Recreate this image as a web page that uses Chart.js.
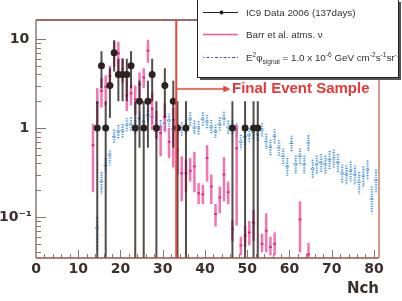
<!DOCTYPE html>
<html>
<head>
<meta charset="utf-8">
<script src="https://cdn.jsdelivr.net/npm/chart.js@4"></script>
<style>
html, body { margin: 0; padding: 0; background: #fff; }
#wrap { width: 402px; height: 301px; }
</style>
</head>
<body>
<div id="wrap"><canvas id="graph" width="402" height="301"></canvas></div>
<script>
// IC9 data 2006 (137 days): counts per Nch bin, with error bar ends
const dataNch = [14.5, 15.5, 16.5, 17.5, 18.5, 19.5, 20.5, 21.5, 22.5, 23.5, 24.5, 25.5, 26.5, 27.5, 28.5, 30.5, 32.5, 33.5, 35.5, 46.5, 49.5, 51.5, 52.5];
const dataCounts = [1, 5, 1, 3, 7, 4, 4, 4, 5, 1, 2, 1, 2, 4, 1, 3, 2, 1, 1, 1, 1, 1, 1];
const dataLo = [0, 2.8, 0, 1.3, 4.3, 2, 2, 2, 2.8, 0, 0.6, 0, 0.6, 2, 0, 1.3, 0.6, 0, 0, 0, 0, 0, 0];
const dataHi = [2, 7.3, 2, 4.7, 9.7, 6, 6, 6, 7.3, 2, 3.4, 2, 3.4, 6, 2, 4.7, 3.4, 2, 2, 2, 2, 2, 2];

// Barr et al. atmospheric neutrinos
const barrNch = [13.5, 14.5, 15.5, 16.5, 17.5, 18.5, 19.5, 20.5, 21.5, 22.5, 23.5, 24.5, 25.5, 26.5, 27.5, 28.5, 29.5, 30.5, 31.5, 32.5, 33.5, 34.5, 35.5, 36.5, 37.5, 38.5, 39.5, 40.5, 41.5, 42.5, 43.5, 44.5, 45.5, 46.5, 47.5, 48.5, 49.5, 50.5, 51.5, 53.5, 54.5, 55.5, 56.5, 62.5, 64.5];
const barrVal = [0.64, 1.92, 2.62, 2.9, 3.85, 6.6, 6.9, 4.6, 2.3, 2.45, 2.1, 3.1, 3.7, 7.4, 1.65, 1.04, 0.88, 1.35, 0.7, 1.24, 0.57, 0.31, 0.31, 0.33, 0.37, 0.185, 0.18, 0.46, 0.22, 0.108, 0.166, 0.3, 0.19, 0.073, 0.59, 0.048, 0.062, 0.067, 0.086, 0.05, 0.07, 0.046, 0.05, 0.094, 0.038];
const barrLo = [0.19, 1.1, 1.7, 1.8, 3.1, 4.9, 4.3, 3.2, 1.55, 1.8, 1.4, 2.2, 2.8, 5.4, 0.95, 0.75, 0.48, 0.9, 0.46, 0.36, 0.3, 0.15, 0.19, 0.25, 0.19, 0.14, 0.14, 0.25, 0.14, 0.078, 0.11, 0.15, 0.14, 0.053, 0.08, 0.037, 0.046, 0.048, 0.054, 0.04, 0.04, 0.037, 0.037, 0.04, 0.03];
const barrHi = [1.11, 2.8, 3.65, 3.9, 5.0, 9.4, 9.3, 6.1, 3.6, 3.1, 3.0, 4.2, 4.7, 9.8, 2.5, 1.55, 1.05, 1.9, 1.0, 1.68, 1.0, 0.48, 0.44, 0.46, 0.54, 0.24, 0.23, 0.64, 0.3, 0.14, 0.22, 0.47, 0.25, 0.093, 1.08, 0.06, 0.08, 0.09, 0.12, 0.065, 0.11, 0.06, 0.067, 0.15, 0.051];

// E^2 phi signal = 1.0e-6 GeV cm-2 s-1 sr-1
const sigNch = [14.5, 15.5, 16.5, 17.5, 18.5, 19.5, 20.5, 21.5, 22.5, 23.5, 24.5, 25.5, 26.5, 27.5, 28.5, 29.5, 30.5, 31.5, 32.5, 33.5, 34.5, 35.5, 36.5, 37.5, 38.5, 39.5, 40.5, 41.5, 42.5, 43.5, 44.5, 45.5, 46.5, 47.5, 48.5, 49.5, 50.5, 51.5, 52.5, 53.5, 54.5, 55.5, 56.5, 57.5, 58.5, 59.5, 60.5, 61.5, 62.5, 63.5, 64.5, 65.5, 66.5, 67.5, 68.5, 69.5, 70.5, 71.5, 72.5, 73.5, 74.5, 75.5, 76.5, 77.5, 78.5, 79.5, 80.5];
const sigVal = [0.075, 0.25, 0.38, 0.5, 0.8, 0.91, 0.93, 1.08, 1.1, 1.02, 1.28, 1.18, 1.4, 1.34, 0.92, 1.03, 1.13, 1.22, 0.98, 0.93, 0.97, 1.02, 1.26, 1.02, 1.0, 1.26, 1.18, 1.03, 0.91, 1.1, 1.28, 1.02, 1.02, 0.95, 0.7, 0.8, 0.83, 0.89, 0.85, 0.95, 0.71, 0.61, 0.81, 0.6, 0.48, 0.37, 0.67, 0.39, 0.48, 0.39, 0.68, 0.35, 0.39, 0.41, 0.39, 0.44, 0.46, 0.41, 0.31, 0.3, 0.33, 0.3, 0.245, 0.29, 0.34, 0.16, 0.26];
const sigLo = [0.043, 0.18, 0.32, 0.38, 0.66, 0.76, 0.78, 0.9, 0.92, 0.85, 1.07, 0.98, 1.17, 1.12, 0.77, 0.86, 0.94, 1.02, 0.82, 0.77, 0.8, 0.85, 1.05, 0.85, 0.83, 1.05, 0.98, 0.86, 0.75, 0.92, 1.07, 0.85, 0.85, 0.79, 0.57, 0.65, 0.68, 0.73, 0.7, 0.78, 0.58, 0.49, 0.66, 0.48, 0.38, 0.29, 0.54, 0.31, 0.38, 0.31, 0.54, 0.27, 0.3, 0.32, 0.3, 0.34, 0.36, 0.32, 0.24, 0.23, 0.25, 0.23, 0.18, 0.22, 0.26, 0.11, 0.19];
const sigHi = [0.1, 0.32, 0.46, 0.56, 0.96, 1.08, 1.1, 1.29, 1.31, 1.22, 1.52, 1.4, 1.66, 1.59, 1.1, 1.23, 1.34, 1.45, 1.17, 1.11, 1.16, 1.21, 1.5, 1.21, 1.19, 1.5, 1.4, 1.23, 1.09, 1.31, 1.52, 1.21, 1.21, 1.13, 0.84, 0.96, 0.99, 1.06, 1.01, 1.13, 0.86, 0.74, 0.97, 0.73, 0.59, 0.46, 0.82, 0.49, 0.59, 0.49, 0.83, 0.44, 0.49, 0.51, 0.49, 0.55, 0.57, 0.51, 0.39, 0.38, 0.42, 0.38, 0.32, 0.37, 0.43, 0.22, 0.34];

// axes
const xTickLabels = [0, 10, 20, 30, 40, 50, 60, 70, 80];
const yTickValues = [0.1, 1, 10];
// thin spaces keep "10" and "1" a little left of the wider 10^-1 label, like ROOT does
const yTickText = { 0.1: '10\u207B\u00B9', 1: '1\u2009', 10: '10\u2009' };

// final event sample cut
const nchCut = 33.2;
const arrowLevel = 2.75;
const arrowTipNch = 46.0;
const cutLabelNch = 46.4;

const FONT_AX = '"DejaVu Sans", sans-serif';
const FONT_TX = '"Liberation Sans", Arial, sans-serif';

function pts(xs, ys) { return xs.map((x, i) => ({ x: x, y: ys[i] })); }

const errorBars = {
    id: 'errorBars',
    beforeDatasetDraw(chart, args) {
        const ds = chart.data.datasets[args.index];
        if (!ds.errLo) return;
        const { ctx, chartArea: a, scales: { x, y } } = chart;
        const halfBin = (x.getPixelForValue(1) - x.getPixelForValue(0)) / 2;
        ctx.save();
        ctx.beginPath();
        ctx.rect(a.left, a.top, a.right - a.left, a.bottom - a.top);
        ctx.clip();
        ds.data.forEach((p, i) => {
            const px = x.getPixelForValue(p.x);
            const py = y.getPixelForValue(p.y);
            const yHi = y.getPixelForValue(ds.errHi[i]);
            const yLo = ds.errLo[i] > 0 ? y.getPixelForValue(ds.errLo[i]) : a.bottom + 4;
            if (ds.kind === 'data') {
                ctx.strokeStyle = 'rgba(40,32,28,0.8)';
                ctx.lineWidth = 2;
                ctx.beginPath(); ctx.moveTo(px, yHi); ctx.lineTo(px, yLo); ctx.stroke();
            } else if (ds.kind === 'mc') {
                ctx.strokeStyle = 'rgba(238,70,150,0.75)';
                ctx.lineWidth = 2.5;
                ctx.beginPath(); ctx.moveTo(px, yHi); ctx.lineTo(px, yLo); ctx.stroke();
                ctx.strokeStyle = '#e0207c';
                ctx.lineWidth = 1.8;
                ctx.beginPath(); ctx.moveTo(px - halfBin * 0.65, py); ctx.lineTo(px + halfBin * 0.65, py); ctx.stroke();
            } else {
                ctx.setLineDash([1.2, 1.2]);
                ctx.strokeStyle = 'rgba(120,180,230,0.55)';
                ctx.lineWidth = 3;
                ctx.beginPath(); ctx.moveTo(px, yHi); ctx.lineTo(px, yLo); ctx.stroke();
                ctx.strokeStyle = 'rgba(40,120,200,0.85)';
                ctx.lineWidth = 1.2;
                ctx.beginPath(); ctx.moveTo(px, yHi); ctx.lineTo(px, yLo); ctx.stroke();
                ctx.beginPath(); ctx.moveTo(px - halfBin, py); ctx.lineTo(px + halfBin, py); ctx.stroke();
                ctx.setLineDash([]);
            }
        });
        ctx.restore();
    }
};

function drawRich(ctx, x, y, parts) {
    parts.forEach(part => {
        const size = part[1] === 0 ? 9.8 : 6.6;
        const dy = part[1] === 1 ? -4 : (part[1] === -1 ? 2.5 : 0);
        ctx.font = size + 'px ' + FONT_TX;
        ctx.fillText(part[0], x, y + dy);
        x += ctx.measureText(part[0]).width;
    });
}

const decorations = {
    id: 'decorations',
    afterDraw(chart) {
        const { ctx, chartArea: a, scales: { x, y } } = chart;
        ctx.save();

        // ticks inside the frame
        ctx.strokeStyle = '#8a7470';
        ctx.lineWidth = 1;
        for (let v = 2; v <= 80; v += 2) {
            const px = Math.round(x.getPixelForValue(v)) + 0.5;
            const len = v % 10 === 0 ? 8 : 4;
            ctx.beginPath(); ctx.moveTo(px, a.bottom); ctx.lineTo(px, a.bottom - len); ctx.stroke();
        }
        [0.01, 0.1, 1, 10].forEach(dec => {
            for (let m = 1; m <= 9; m++) {
                const v = dec * m;
                if (v < y.min || v > y.max) continue;
                const py = Math.round(y.getPixelForValue(v)) + 0.5;
                const len = m === 1 ? 10 : 5;
                ctx.beginPath(); ctx.moveTo(a.left, py); ctx.lineTo(a.left + len, py); ctx.stroke();
            }
        });

        // frame
        ctx.lineWidth = 1.5;
        const side = (c, x1, y1, x2, y2) => { ctx.strokeStyle = c; ctx.beginPath(); ctx.moveTo(x1, y1); ctx.lineTo(x2, y2); ctx.stroke(); };
        side('#7a3a34', a.left, a.top, a.right, a.top);
        side('#8c7a78', a.left, a.top, a.left, a.bottom);
        side('#9a5048', a.left, a.bottom, a.right, a.bottom);
        side('#d07868', a.right, a.top, a.right, a.bottom);

        // final event sample cut
        const cx = x.getPixelForValue(nchCut);
        const ay = y.getPixelForValue(arrowLevel);
        const tip = x.getPixelForValue(arrowTipNch);
        ctx.strokeStyle = '#e5483a';
        ctx.lineWidth = 2;
        ctx.beginPath(); ctx.moveTo(cx, a.top); ctx.lineTo(cx, a.bottom); ctx.stroke();
        ctx.lineWidth = 1.5;
        ctx.beginPath(); ctx.moveTo(cx, ay); ctx.lineTo(tip - 4, ay); ctx.stroke();
        ctx.fillStyle = '#e5483a';
        ctx.beginPath(); ctx.moveTo(tip, ay); ctx.lineTo(tip - 7, ay - 3.5); ctx.lineTo(tip - 7, ay + 3.5); ctx.closePath(); ctx.fill();
        ctx.fillStyle = '#e63838';
        ctx.font = 'bold 15px ' + FONT_TX;
        ctx.textBaseline = 'middle';
        ctx.fillText('Final Event Sample', x.getPixelForValue(cutLabelNch), ay);

        // legend box
        const lx = 197, ly = -1, lw = 201, lh = 78;
        ctx.fillStyle = '#555';
        ctx.fillRect(lx + 3, ly + 3, lw, lh);
        ctx.fillStyle = '#fff';
        ctx.fillRect(lx, ly, lw, lh);
        ctx.strokeStyle = '#222';
        ctx.lineWidth = 1;
        ctx.strokeRect(lx + 0.5, ly + 0.5, lw, lh);

        ctx.lineWidth = 1;
        ctx.strokeStyle = '#222';
        ctx.beginPath(); ctx.moveTo(203, 12.5); ctx.lineTo(238, 12.5); ctx.stroke();
        ctx.fillStyle = '#222';
        ctx.beginPath(); ctx.arc(221.5, 12.5, 2, 0, Math.PI * 2); ctx.fill();

        ctx.strokeStyle = '#ee5aa0';
        ctx.lineWidth = 1.5;
        ctx.beginPath(); ctx.moveTo(203, 34.5); ctx.lineTo(238, 34.5); ctx.stroke();

        ctx.strokeStyle = '#3a4ac0';
        ctx.lineWidth = 1.2;
        ctx.setLineDash([1.5, 2, 3, 2]);
        ctx.beginPath(); ctx.moveTo(203, 57.5); ctx.lineTo(238, 57.5); ctx.stroke();
        ctx.setLineDash([]);

        ctx.fillStyle = '#333';
        ctx.textBaseline = 'alphabetic';
        ctx.font = '9.8px ' + FONT_TX;
        ctx.fillText('IC9 Data 2006 (137days)', 246, 16);
        ctx.fillText('Barr et al. atms. \u03BD', 246, 38);
        drawRich(ctx, 246, 61, [
            ['E', 0], ['2', 1], ['\u03C6', 0], ['signal', -1], [' = 1.0 x 10', 0], ['-6', 1],
            [' GeV cm', 0], ['-2', 1], ['s', 0], ['-1', 1], ['sr', 0], ['-1', 1]
        ]);

        ctx.restore();
    }
};

const ctx = document.getElementById('graph').getContext('2d');
new Chart(ctx, {
    type: 'scatter',
    data: {
        datasets: [
            {
                label: 'IC9 Data 2006 (137days)',
                kind: 'data',
                data: pts(dataNch, dataCounts),
                errLo: dataLo,
                errHi: dataHi,
                pointRadius: 3.5,
                pointBackgroundColor: '#2a2320',
                pointBorderWidth: 0
            },
            {
                label: 'Barr et al. atms. \u03BD',
                kind: 'mc',
                data: pts(barrNch, barrVal),
                errLo: barrLo,
                errHi: barrHi,
                pointRadius: 0
            },
            {
                label: 'signal',
                kind: 'signal',
                data: pts(sigNch, sigVal),
                errLo: sigLo,
                errHi: sigHi,
                pointRadius: 0
            }
        ]
    },
    options: {
        responsive: false,
        animation: false,
        devicePixelRatio: 1,
        layout: { padding: { top: 20, right: 23, left: 0, bottom: 0 } },
        plugins: {
            legend: { display: false },
            tooltip: { enabled: false }
        },
        scales: {
            x: {
                type: 'linear',
                min: 0,
                max: 81.2,
                grid: { display: false, drawTicks: false },
                border: { display: false },
                afterBuildTicks: s => { s.ticks = xTickLabels.map(v => ({ value: v })); },
                afterFit: s => { s.height = 43; },
                ticks: {
                    padding: 3,
                    maxRotation: 0,
                    autoSkip: false,
                    color: '#3a302c',
                    font: { family: FONT_AX, weight: 'bold', size: 14 }
                },
                title: {
                    display: true,
                    text: 'Nch',
                    align: 'end',
                    color: '#3a302c',
                    font: { family: FONT_AX, weight: 'bold', size: 15 },
                    padding: { top: 0, bottom: 3 }
                }
            },
            y: {
                type: 'logarithmic',
                min: 0.0346,
                max: 16.35,
                grid: { display: false, drawTicks: false },
                border: { display: false },
                afterBuildTicks: s => { s.ticks = yTickValues.map(v => ({ value: v })); },
                afterFit: s => { s.width = 36; },
                ticks: {
                    padding: 4,
                    autoSkip: false,
                    color: '#3a302c',
                    font: { family: FONT_AX, weight: 'bold', size: 14 },
                    callback: v => yTickText[v] || ''
                }
            }
        }
    },
    plugins: [errorBars, decorations]
});
</script>
</body>
</html>
